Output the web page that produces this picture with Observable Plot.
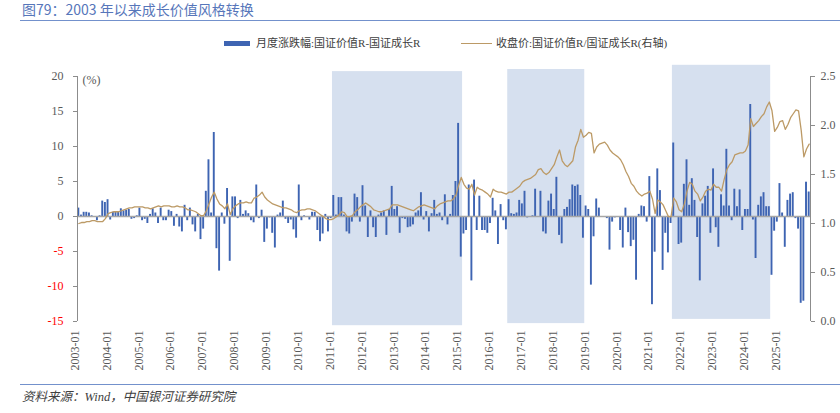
<!DOCTYPE html>
<html>
<head>
<meta charset="utf-8">
<script src="https://cdn.jsdelivr.net/npm/d3@7"></script>
<script src="https://cdn.jsdelivr.net/npm/@observablehq/plot@0.6"></script>
<style>
  body { margin: 0; background: #fff; }
  #wrap { position: relative; width: 840px; height: 413px; overflow: hidden; background: #fff;
          font-family: "Liberation Serif", "Noto Sans CJK SC", serif; }
  #title { position: absolute; left: 22px; top: 1px; font-family: "Noto Sans CJK SC", sans-serif;
           font-size: 14px; line-height: 17px; color: #5676BA; white-space: nowrap; }
  .rule { position: absolute; left: 20px; width: 820px; height: 0; border-top: 1.5px solid #7391CC; }
  .lg { position: absolute; font-size: 11px; line-height: 14px; color: #404040; white-space: nowrap; top: 36px; }
  .sw-bar { position: absolute; left: 224px; top: 41px; width: 26px; height: 5px; background: #3E64B2; }
  .sw-line { position: absolute; left: 461px; top: 43px; width: 31px; height: 0; border-top: 1.5px solid #BC9A66; }
  #chart { position: absolute; left: 0; top: 56px; }
  #caption { position: absolute; left: 22px; top: 389px; font-size: 12.5px; line-height: 16px;
             font-style: italic; color: #404040; white-space: nowrap; }
</style>
</head>
<body>
<div id="wrap">
  <div id="title">图79：2003 年以来成长价值风格转换</div>
  <div class="rule" style="top:20px"></div>
  <div class="sw-bar"></div>
  <div class="lg" style="left:256px">月度涨跌幅:国证价值R-国证成长R</div>
  <div class="sw-line"></div>
  <div class="lg" style="left:496px">收盘价:国证价值R/国证成长R(右轴)</div>
  <div id="chart"></div>
  <div class="rule" style="top:384px"></div>
  <div id="caption">资料来源：Wind，中国银河证券研究院</div>
</div>
<script>
// Monthly change (%) : 国证价值R - 国证成长R, 2003-01 ... 2025-12
const monthlyChange = [
  1.2, 0.2, 0.6, 0.6, 0.5, 0.1, -0.1, -0.6, 0.1, 2.2, 2.0, 2.4,          // 2003
  -0.5, 0.6, 0.6, 0.7, 1.1, 0.8, 0.9, 1.0, -0.4, -0.3, 0.1, 1.2,         // 2004
  -0.6, -0.4, -1.0, 0.3, 1.1, 0.5, -1.0, 1.2, -0.6, -0.6, 0.9, 0.7,      // 2005
  -1.4, 0.3, -1.5, -2.2, 1.6, -0.6, 1.2, -1.2, -2.2, 0.3, -3.3, -1.8,    // 2006
  3.6, 8.1, 0.5, 12.0, -4.6, -7.8, 0.5, -1.1, 4.0, -6.4, 2.8, 2.8,       // 2007
  -0.3, 2.3, 0.3, 0.8, 0.4, -0.6, -0.9, 4.5, -0.3, 0.9, -3.7, -1.8,      // 2008
  -0.2, -2.4, -4.5, 0.2, 0.5, 2.2, -0.4, -1.0, -0.5, -1.9, -3.1, 4.5,    // 2009
  -0.6, 0.1, 0.0, -0.5, 0.6, 0.6, -2.0, -3.6, -2.5, 0.3, -2.2, -0.3,     // 2010
  3.0, 0.2, 2.7, 2.7, 0.2, -2.2, -2.5, -0.8, 3.2, 2.7, -0.8, 4.4,        // 2011
  1.5, -3.0, 0.8, -1.6, -3.0, 0.2, 0.5, 0.8, -2.7, 1.0, 4.3, 1.0,        // 2012
  1.4, -2.4, -0.3, -0.4, -1.6, -1.5, -1.2, 0.5, 0.8, 3.4, -0.5, 0.7,     // 2013
  -2.2, 0.4, 2.3, 0.3, 0.5, -0.6, 3.1, -1.2, 0.3, 3.0, 5.0, 13.3,        // 2014
  -5.8, -2.5, -2.0, 4.5, -9.2, 5.2, -2.0, 2.9, -2.0, -2.0, -2.4, -1.0,   // 2015
  2.6, 0.8, -4.0, 1.7, -0.6, -1.9, 2.4, 0.4, 0.3, 0.5, 2.3, 1.8,         // 2016
  3.6, -0.2, 0.0, 0.1, 3.9, 0.0, 3.6, -2.2, -2.5, 2.2, 3.2, 1.0,         // 2017
  5.6, -2.7, -3.9, 1.0, 1.3, 2.4, 4.5, 4.3, 4.5, 3.0, -3.1, 1.5,         // 2018
  1.0, -9.8, -2.9, 2.5, 1.2, 0.0, -0.1, -0.3, -4.8, -0.8, -0.2, 0.0,     // 2019
  -2.0, -4.5, 1.2, -2.3, -4.3, -3.4, -9.1, 0.3, 1.5, 1.4, -0.8, 5.7,     // 2020
  -12.6, -5.1, 6.8, 3.7, -7.7, -2.4, -5.2, -1.0, 10.5, 0.0, -4.0, -3.8,  // 2021
  4.6, 8.1, 1.6, 5.4, 2.3, -3.0, -9.2, 1.8, 2.9, 4.3, -2.4, 6.8,         // 2022
  -1.6, -4.4, 3.1, 1.5, 9.6, 1.5, -0.6, 3.9, 1.4, 3.8, -2.0, 1.0,        // 2023
  1.0, 16.0, -0.5, -6.0, 1.6, 2.8, 3.4, 1.4, 1.4, -8.4, -2.1, -0.8,      // 2024
  4.7, 0.5, -4.4, 2.3, 3.2, 3.4, -0.3, -1.8, -12.4, -12.1, 4.9, 3.5      // 2025
];

// Close ratio 国证价值R / 国证成长R (right axis), one reading per month
const closeRatio = [
  1.00, 1.01, 1.01, 1.02, 1.02, 1.03, 1.03, 1.02, 1.02, 1.02, 1.05, 1.10, // 2003
  1.11, 1.12, 1.12, 1.12, 1.13, 1.14, 1.15, 1.16, 1.16, 1.17, 1.17, 1.17, // 2004
  1.17, 1.16, 1.16, 1.15, 1.16, 1.17, 1.18, 1.17, 1.18, 1.18, 1.18, 1.17, // 2005
  1.17, 1.18, 1.17, 1.17, 1.16, 1.14, 1.14, 1.13, 1.12, 1.10, 1.08, 1.08, // 2006
  1.13, 1.20, 1.27, 1.32, 1.25, 1.20, 1.18, 1.15, 1.20, 1.09, 1.15, 1.18, // 2007
  1.20, 1.21, 1.21, 1.22, 1.21, 1.21, 1.26, 1.27, 1.29, 1.32, 1.27, 1.24, // 2008
  1.22, 1.20, 1.19, 1.18, 1.17, 1.16, 1.16, 1.15, 1.14, 1.12, 1.11, 1.13, // 2009
  1.14, 1.14, 1.15, 1.15, 1.14, 1.13, 1.11, 1.09, 1.07, 1.05, 1.04, 1.04, // 2010
  1.05, 1.07, 1.09, 1.12, 1.11, 1.07, 1.07, 1.08, 1.12, 1.14, 1.17, 1.19, // 2011
  1.21, 1.19, 1.17, 1.14, 1.13, 1.12, 1.12, 1.13, 1.14, 1.15, 1.19, 1.19, // 2012
  1.19, 1.18, 1.17, 1.16, 1.15, 1.14, 1.13, 1.15, 1.17, 1.18, 1.19, 1.18, // 2013
  1.17, 1.16, 1.15, 1.18, 1.20, 1.21, 1.22, 1.23, 1.23, 1.25, 1.29, 1.39, // 2014
  1.47, 1.40, 1.36, 1.35, 1.40, 1.29, 1.37, 1.35, 1.34, 1.32, 1.30, 1.27, // 2015
  1.35, 1.33, 1.32, 1.32, 1.31, 1.30, 1.32, 1.32, 1.34, 1.36, 1.38, 1.42, // 2016
  1.44, 1.45, 1.46, 1.48, 1.50, 1.55, 1.56, 1.52, 1.50, 1.52, 1.56, 1.60, // 2017
  1.68, 1.75, 1.64, 1.60, 1.58, 1.61, 1.64, 1.78, 1.85, 1.96, 1.88, 1.90, // 2018
  1.93, 1.92, 1.72, 1.78, 1.81, 1.82, 1.83, 1.80, 1.75, 1.72, 1.70, 1.68, // 2019
  1.65, 1.60, 1.53, 1.48, 1.41, 1.38, 1.33, 1.30, 1.28, 1.30, 1.31, 1.33, // 2020
  1.25, 1.10, 1.24, 1.22, 1.19, 1.13, 1.07, 1.07, 1.26, 1.22, 1.14, 1.12, // 2021
  1.20, 1.33, 1.42, 1.40, 1.33, 1.30, 1.23, 1.27, 1.33, 1.35, 1.34, 1.40, // 2022
  1.37, 1.37, 1.33, 1.45, 1.55, 1.60, 1.63, 1.70, 1.71, 1.72, 1.72, 1.74, // 2023
  1.80, 2.07, 1.99, 2.02, 2.05, 2.09, 2.12, 2.19, 2.24, 2.15, 1.94, 1.98, // 2024
  2.04, 2.05, 1.96, 2.01, 2.08, 2.12, 2.16, 2.15, 1.95, 1.68, 1.76, 1.81  // 2025
];

// Shaded periods
const shadeStart  = ["2011-01", "2016-07", "2021-09"];
const shadeEnd    = ["2015-01", "2018-11", "2024-09"];
const shadeTop    = [20.7, 21.0, 21.6];    // left-axis units
const shadeBottom = [-15.6, -15.3, -14.7];

// Axis ticks
const leftTicks  = [-15, -10, -5, 0, 5, 10, 15, 20];
const rightTicks = [0.0, 0.5, 1.0, 1.5, 2.0, 2.5];
const xTickLabels = ["2003-01","2004-01","2005-01","2006-01","2007-01","2008-01","2009-01","2010-01",
  "2011-01","2012-01","2013-01","2014-01","2015-01","2016-01","2017-01","2018-01","2019-01",
  "2020-01","2021-01","2022-01","2023-01","2024-01","2025-01"];

const N = monthlyChange.length;
const months = Array.from({length: N}, (_, i) =>
  `${2003 + Math.floor(i / 12)}-${String(i % 12 + 1).padStart(2, "0")}`);
const idx = m => months.indexOf(m);

const yMin = -15, yMax = 20, rMin = 0, rMax = 2.5;
const toLeft = r => yMin + (r - rMin) * (yMax - yMin) / (rMax - rMin);
const toRight = v => rMin + (v - yMin) * (rMax - rMin) / (yMax - yMin);

const bars = monthlyChange.map((v, i) => ({i, v}));
const ratio = closeRatio.map((r, i) => ({i, r}));
const shades = shadeStart.map((s, k) => ({s: idx(s), e: idx(shadeEnd[k]), top: shadeTop[k], bottom: shadeBottom[k]}));

const axisGray = "#8C8C8C", textGray = "#595959";

const chart = Plot.plot({
  width: 840,
  height: 324,
  marginTop: 20,
  marginBottom: 59,
  marginLeft: 77,
  marginRight: 30,
  x: {domain: [-0.5, N - 0.5], axis: null},
  y: {domain: [yMin, yMax], axis: null},
  style: {fontFamily: '"Liberation Serif", "Noto Sans CJK SC", serif', fontSize: "12px", color: textGray, background: "transparent", overflow: "visible"},
  marks: [
    Plot.rect(shades, {x1: d => d.s - 0.5, x2: d => d.e + 0.5, y1: "bottom", y2: "top", fill: "#D6E0EF"}),
    Plot.rect(bars, {x1: d => d.i - 0.36, x2: d => d.i + 0.36, y1: 0, y2: "v", fill: "#3E64B2"}),
    Plot.ruleY([0], {stroke: "#A6A6A6", strokeWidth: 1.6}),
    Plot.line(ratio, {x: "i", y: d => toLeft(d.r), stroke: "#BC9A66", strokeWidth: 1.3}),
    Plot.ruleX([-0.5], {y1: yMin, y2: yMax, stroke: axisGray}),
    Plot.ruleX([N - 0.5], {y1: yMin, y2: yMax, stroke: axisGray}),
    Plot.axisY(leftTicks.filter(d => d >= 0), {anchor: "left", tickSize: 4, tickPadding: 10, stroke: axisGray, fill: textGray, fontSize: 12, label: null, tickFormat: d => String(d)}),
    Plot.axisY(leftTicks.filter(d => d < 0), {anchor: "left", tickSize: 4, tickPadding: 10, stroke: axisGray, fill: "#FF0000", fontSize: 12, label: null, tickFormat: d => String(d)}),
    Plot.axisY(rightTicks.map(toLeft), {anchor: "right", tickSize: 4, tickPadding: 6, stroke: axisGray, fill: textGray, fontSize: 12, label: null, tickFormat: d => toRight(d).toFixed(1)}),
    Plot.text(["(%)"], {frameAnchor: "top-left", dx: 5, dy: -1, textAnchor: "start", lineAnchor: "top", fill: textGray, fontSize: 12}),
    Plot.text(xTickLabels, {x: d => idx(d), frameAnchor: "bottom", rotate: -90, textAnchor: "end", dy: 9, fill: textGray, fontSize: 12})
  ]
});
document.getElementById("chart").appendChild(chart);
</script>
</body>
</html>
